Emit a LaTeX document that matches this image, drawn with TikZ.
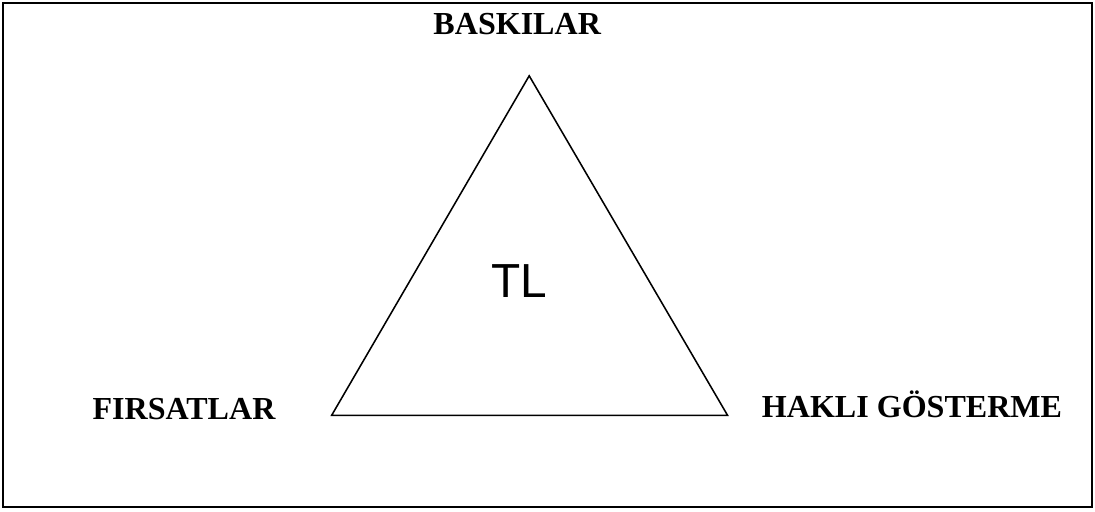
\documentclass[tikz,border=0pt]{standalone}
\usepackage{fontspec}
\setmainfont{Liberation Serif}
\setsansfont{Liberation Sans}
\usepackage{tikz}
\usetikzlibrary{positioning,calc}
\tikzset{
  frame/.style={line width=2pt},
  side/.style={line width=1.1pt,line join=miter},
  corner/.style={font=\bfseries\fontsize{22.8}{27}\selectfont,anchor=base,inner sep=0pt},
  core/.style={font=\sffamily\fontsize{34}{40}\selectfont,anchor=base,inner sep=0pt},
}
\begin{document}
\begin{tikzpicture}
  \useasboundingbox (0,0) rectangle (27.375,12.775);
  \draw[frame] (0.075,0.1) rectangle (27.3,12.7);
  % triangle corners
  \coordinate (top) at (13.23,10.88);
  \coordinate (left) at (8.29,2.39);
  \coordinate (right) at (18.19,2.39);
  \draw[side] (top) -- (left) -- (right) -- cycle;
  \node[corner] (press) at (12.93,11.91) {BASKILAR};
  \node[corner] (chance) at (4.6,2.3) {FIRSATLAR};
  \node[corner] (excuse) at (22.8,2.33) {HAKLI GÖSTERME};
  \node[core] (tl) at (12.98,5.33) {TL};
\end{tikzpicture}
\end{document}
